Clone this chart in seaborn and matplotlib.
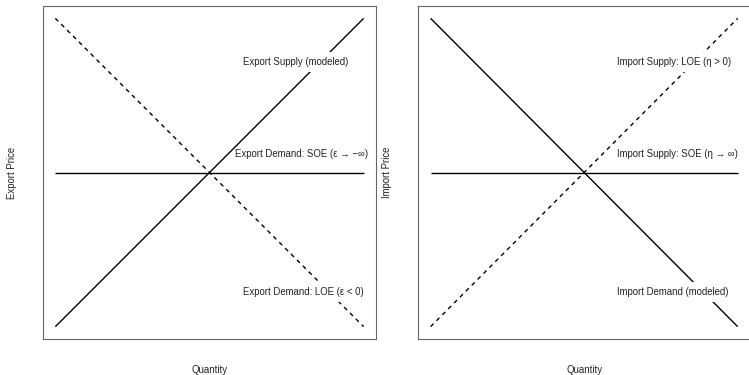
import matplotlib
matplotlib.use("Agg")
import matplotlib.pyplot as plt
from matplotlib.patches import Rectangle
import numpy as np
import pandas as pd
import seaborn as sns

# Stylised quantity axis (both curves span the same range)
quantity = [0.0, 1.0]

# Export market curves
export_supply = [0.0, 1.0]
export_demand_soe = [0.5, 0.5]
export_demand_loe = [1.0, 0.0]

# Import market curves
import_demand = [1.0, 0.0]
import_supply_soe = [0.5, 0.5]
import_supply_loe = [0.0, 1.0]

export_labels = ["Export Supply (modeled)",
                 "Export Demand: SOE (\u03b5 \u2192 \u2212\u221e)",
                 "Export Demand: LOE (\u03b5 < 0)"]
import_labels = ["Import Supply: LOE (\u03b7 > 0)",
                 "Import Supply: SOE (\u03b7 \u2192 \u221e)",
                 "Import Demand (modeled)"]
export_label_x = [0.608, 0.583, 0.608]
import_label_x = [0.608, 0.608, 0.608]
label_y = [0.86, 0.56, 0.114]
# only labels sitting on top of a curve get a white backing box
label_boxed = [True, False, True]

sns.set_theme(style="white")
plt.rcParams["font.family"] = ["Liberation Sans", "DejaVu Sans"]

W, H = 749, 375
fig = plt.figure(figsize=(W / 100, H / 100), dpi=100)
fig.patch.set_facecolor("white")

ax_exp = fig.add_axes([43 / W, 36 / H, 333 / W, 333 / H])
ax_imp = fig.add_axes([418.3 / W, 36 / H, 331.7 / W, 333 / H])

FS = 6.9
LW = 1.0
DASH = (0, (3, 3))


def draw_curve(ax, y, dashed=False):
    df = pd.DataFrame({"q": quantity, "p": y})
    sns.lineplot(data=df, x="q", y="p", ax=ax, color="black",
                 linewidth=LW, linestyle=DASH if dashed else "-",
                 solid_capstyle="butt", zorder=2)


draw_curve(ax_exp, export_supply)
draw_curve(ax_exp, export_demand_soe)
draw_curve(ax_exp, export_demand_loe, dashed=True)

draw_curve(ax_imp, import_demand)
draw_curve(ax_imp, import_supply_soe)
draw_curve(ax_imp, import_supply_loe, dashed=True)

texts = []
for ax, labels, xs, ylab in [(ax_exp, export_labels, export_label_x, "Export Price"),
                             (ax_imp, import_labels, import_label_x, "Import Price")]:
    ax.set_xlim(-0.04, 1.04)
    ax.set_ylim(-0.04, 1.04)
    ax.set_xticks([])
    ax.set_yticks([])
    for s in ax.spines.values():
        s.set_visible(True)
        s.set_color("#666666")
        s.set_linewidth(0.8)
    ax.set_xlabel("Quantity", fontsize=FS, color="#222222")
    ax.set_ylabel(ylab, fontsize=FS, color="#222222")
    ax.xaxis.set_label_coords(0.5, -0.078)
    ax.yaxis.set_label_coords(-0.093, 0.5)
    ax.yaxis.label.set_verticalalignment("center")
    for lab, x, y, boxed in zip(labels, xs, label_y, label_boxed):
        t = ax.text(x, y, lab, fontsize=FS, ha="left", va="center",
                    color="#222222", zorder=4)
        if boxed:
            texts.append((ax, t))

# White backing boxes behind the curve labels, taller than wide
fig.canvas.draw()
renderer = fig.canvas.get_renderer()
for ax, t in texts:
    bb = t.get_window_extent(renderer)
    x0, x1 = bb.x0 - 1.5, bb.x1 + 1.5
    y0, y1 = bb.y0 - 5, bb.y1 + 5
    inv = ax.transData.inverted()
    (dx0, dy0), (dx1, dy1) = inv.transform([(x0, y0), (x1, y1)])
    ax.add_patch(Rectangle((dx0, dy0), dx1 - dx0, dy1 - dy0,
                           facecolor="white", edgecolor="none", zorder=3))

fig.savefig("out.png", dpi=100, facecolor="white")
